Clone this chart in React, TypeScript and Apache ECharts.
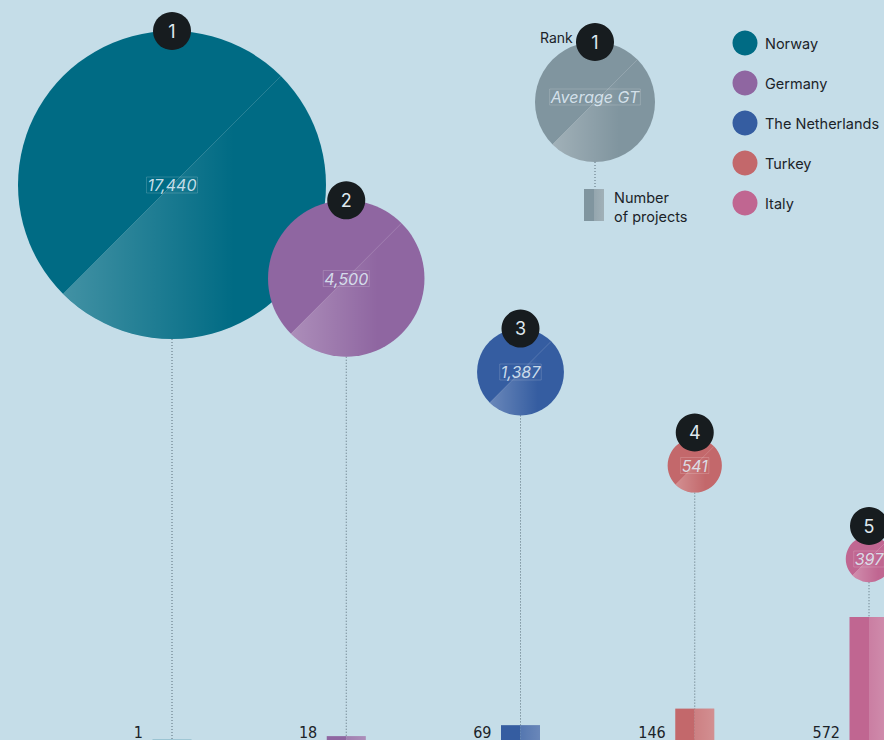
import React, { useEffect, useRef } from "react";
import * as echarts from "echarts";

const countries = ["Norway", "Germany", "The Netherlands", "Turkey", "Italy"];
const ranks = [1, 2, 3, 4, 5];
const averageGT = [17440, 4500, 1387, 541, 397];
const projects = [1, 18, 69, 146, 572];
const colors = ["#006b84", "#8f66a1", "#355da1", "#c3686b", "#c06691"];

const BG = "#c5dde8";
const BADGE = "#171c1f";
const BADGE_TEXT = "#dfe8ee";
const DOT = "#5b6f7a";
const LABEL_FILL = "rgba(222,234,244,0.9)";
const R_MAX = 154;
const BAR_W = 39;
const FONT = "Inter, 'Noto Sans', sans-serif";
const NUM_FONT = "'Liberation Sans Narrow', 'DejaVu Sans Condensed', sans-serif";

const fmt = (v: number) => v.toLocaleString("en-US");

const sheen = () =>
  new echarts.graphic.LinearGradient(0, 0, 1, 0, [
    { offset: 0, color: "rgba(255,255,255,0.26)" },
    { offset: 0.65, color: "rgba(255,255,255,0)" },
  ]);

function bubble(cx: number, cy: number, r: number, color: string, label: string, rank: string, badgeOffset: number, labelDy = 0) {
  const d = r * Math.SQRT1_2;
  return [
    { type: "circle", shape: { cx, cy, r }, style: { fill: color } },
    {
      type: "sector",
      shape: { cx, cy, r0: 0, r, startAngle: -Math.PI / 4, endAngle: (3 * Math.PI) / 4, clockwise: true },
      style: { fill: sheen() },
    },
    {
      type: "line",
      shape: { x1: cx - d, y1: cy + d, x2: cx + d, y2: cy - d },
      style: { stroke: "rgba(255,255,255,0.2)", lineWidth: 0.8 },
    },
    {
      type: "text",
      x: cx,
      y: cy + labelDy,
      style: {
        text: label,
        fill: LABEL_FILL,
        fontSize: 16,
        fontFamily: FONT,
        fontStyle: "italic",
        align: "center",
        verticalAlign: "middle",
        textAlign: "center",
        textVerticalAlign: "middle",
        borderColor: "rgba(255,255,255,0.28)",
        borderWidth: 0.6,
        padding: [0, 1],
      },
    },
    { type: "circle", shape: { cx, cy: cy - badgeOffset, r: 19 }, style: { fill: BADGE } },
    {
      type: "text",
      x: cx,
      y: cy - badgeOffset,
      style: {
        text: rank,
        fill: BADGE_TEXT,
        fontSize: 18,
        fontFamily: FONT,
        align: "center",
        verticalAlign: "middle",
        textAlign: "center",
        textVerticalAlign: "middle",
      },
    },
  ];
}

function splitBar(x: number, y: number, h: number, color: string, w = BAR_W) {
  return [
    { type: "rect", shape: { x: x - w / 2, y, width: w / 2, height: h }, style: { fill: color } },
    { type: "rect", shape: { x, y, width: w / 2, height: h }, style: { fill: color } },
    {
      type: "rect",
      shape: { x, y, width: w / 2, height: h },
      style: {
        fill: new echarts.graphic.LinearGradient(0, 0, 1, 0, [
          { offset: 0, color: "rgba(255,255,255,0.16)" },
          { offset: 1, color: "rgba(255,255,255,0.26)" },
        ]),
      },
    },
  ];
}

export default function App() {
  const ref = useRef<HTMLDivElement>(null);
  useEffect(() => {
    if (!ref.current) return;
    const chart = echarts.init(ref.current, undefined, { renderer: "svg" });

    const bubbleData = ranks.map((r, i) => [r, r, averageGT[i], i]);
    const barData = ranks.map((r, i) => [r, projects[i], i]);

    const legendGraphics: any[] = [];
    legendGraphics.push({
      type: "text",
      x: 540,
      y: 37,
      style: { text: "Rank", fill: "#1b2328", fontSize: 14, fontFamily: FONT, align: "left", verticalAlign: "middle", textAlign: "left", textVerticalAlign: "middle" },
    });
    legendGraphics.push({
      type: "line",
      shape: { x1: 595, y1: 162, x2: 595, y2: 189 },
      style: { stroke: DOT, lineWidth: 1, lineDash: [1, 2] },
    });
    bubble(595, 102, 60, "#80959f", "Average GT", "1", 60, -5).forEach((g) => legendGraphics.push(g));
    splitBar(594, 189, 32, "#80959f", 20).forEach((g) => legendGraphics.push(g));
    ["Number", "of projects"].forEach((t, i) =>
      legendGraphics.push({
        type: "text",
        x: 614,
        y: 197 + i * 19,
        style: { text: t, fill: "#1b2328", fontSize: 14.5, fontFamily: FONT, align: "left", verticalAlign: "middle", textAlign: "left", textVerticalAlign: "middle" },
      })
    );
    countries.forEach((c, i) => {
      legendGraphics.push({ type: "circle", shape: { cx: 745, cy: 43 + i * 40, r: 12.5 }, style: { fill: colors[i] } });
      legendGraphics.push({
        type: "text",
        x: 765,
        y: 43 + i * 40,
        style: { text: c, fill: "#1b2328", fontSize: 14.5, fontFamily: FONT, align: "left", verticalAlign: "middle", textAlign: "left", textVerticalAlign: "middle" },
      });
    });

    chart.setOption({
      animation: false,
      backgroundColor: BG,
      grid: [
        { left: 172, right: 15, top: 185, bottom: 181 },
        { left: 172, right: 15, top: 525, bottom: 0 },
      ],
      xAxis: [
        { type: "value", gridIndex: 0, min: 1, max: 5, show: false },
        { type: "value", gridIndex: 1, min: 1, max: 5, show: false },
      ],
      yAxis: [
        { type: "value", gridIndex: 0, min: 1, max: 5, inverse: true, show: false },
        { type: "value", gridIndex: 1, min: 0, max: 1000, show: false },
      ],
      graphic: { elements: legendGraphics },
      series: [
        {
          type: "custom",
          xAxisIndex: 0,
          yAxisIndex: 0,
          z: 2,
          clip: false,
          data: bubbleData,
          encode: { x: 0, y: 1 },
          renderItem: (params: any, api: any) => {
            const i = api.value(3);
            const [cx, cy] = api.coord([api.value(0), api.value(1)]);
            const r = Math.sqrt(api.value(2) / averageGT[0]) * R_MAX;
            const children: any[] = [
              {
                type: "line",
                shape: { x1: cx, y1: cy + r, x2: cx, y2: api.getHeight() },
                style: { stroke: DOT, lineWidth: 1, lineDash: [1, 2] },
              },
              ...bubble(cx, cy, r, colors[i], fmt(averageGT[i]), String(ranks[i]), Math.max(r, 33)),
            ];
            return { type: "group", children };
          },
        },
        {
          type: "custom",
          xAxisIndex: 1,
          yAxisIndex: 1,
          z: 3,
          clip: false,
          data: barData,
          encode: { x: 0, y: 1 },
          renderItem: (params: any, api: any) => {
            const i = api.value(2);
            const base = api.coord([api.value(0), 0]);
            const top = api.coord([api.value(0), api.value(1)]);
            const children: any[] = [
              ...splitBar(base[0], top[1], base[1] - top[1], colors[i]),
              {
                type: "text",
                x: base[0] - 29,
                y: base[1] - 8,
                style: {
                  text: fmt(projects[i]),
                  fill: "#1b2328",
                  fontSize: 16,
                  fontFamily: NUM_FONT,
                  align: "right",
                  verticalAlign: "middle",
                  textAlign: "right",
                  textVerticalAlign: "middle",
                },
              },
            ];
            return { type: "group", children };
          },
        },
      ],
    });
    return () => chart.dispose();
  }, []);
  return <div ref={ref} style={{ position: "fixed", left: 0, top: 0, width: 884, height: 740 }} />;
}
